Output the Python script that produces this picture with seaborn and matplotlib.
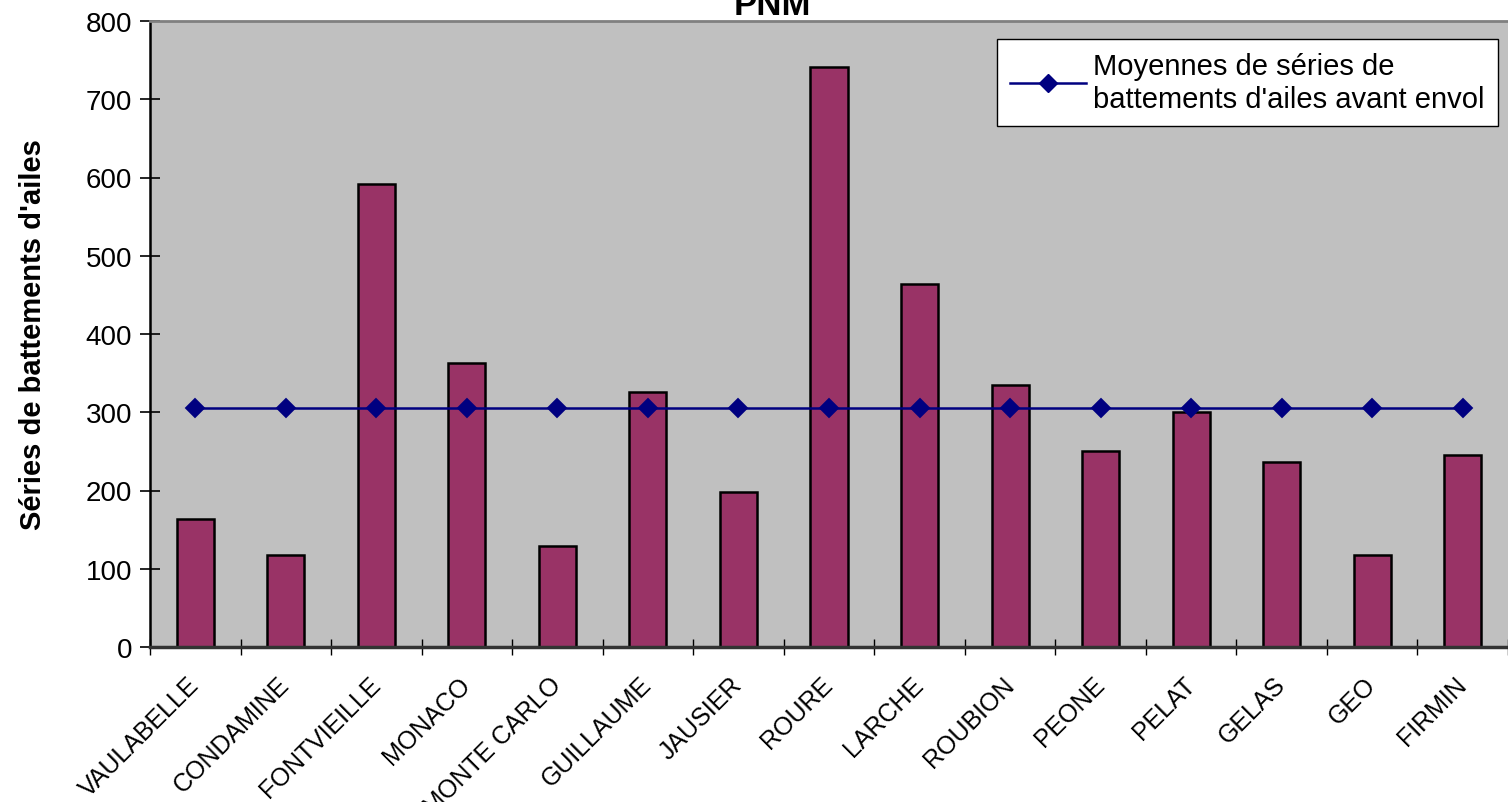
import numpy as np
import pandas as pd
import seaborn as sns
import matplotlib.pyplot as plt
from matplotlib.lines import Line2D

sites = ["VAULABELLE", "CONDAMINE", "FONTVIEILLE", "MONACO", "MONTE CARLO",
         "GUILLAUME", "JAUSIER", "ROURE", "LARCHE", "ROUBION",
         "PEONE", "PELAT", "GELAS", "GEO", "FIRMIN"]
battements = [164, 118, 592, 363, 129, 326, 198, 741, 464, 335, 250, 300, 236, 118, 245]
moyenne = [305.3, 305.3, 305.3, 305.3, 305.3, 305.3, 305.3, 305.3,
           305.3, 305.3, 305.3, 305.3, 305.3, 305.3, 305.3]
yticks = [0, 100, 200, 300, 400, 500, 600, 700, 800]

df = pd.DataFrame({"site": sites, "battements": battements, "moyenne": moyenne})

plt.rcParams["font.family"] = ["Liberation Sans", "DejaVu Sans"]

fig = plt.figure(figsize=(15.08, 8.03), dpi=100)
ax = fig.add_axes([150 / 1508, 1 - 648 / 803, 1 - 150 / 1508, (648 - 22) / 803])
ax.set_facecolor("#C0C0C0")

sns.barplot(data=df, x="site", y="battements", color="#993366", saturation=1,
            width=0.41, edgecolor="black", linewidth=1.8, ax=ax)
sns.pointplot(data=df, x="site", y="moyenne", color="#000080", markers="D",
              markersize=9, linewidth=1.8, errorbar=None, ax=ax)

ax.set_xlim(-0.5, len(sites) - 0.5)
ax.set_ylim(0, 800)
ax.set_yticks(yticks)
ax.set_xlabel("")
ax.set_ylabel("Séries de battements d'ailes", fontsize=21, fontweight="bold", labelpad=28)

ax.set_xticks(range(len(sites)))
ax.set_xticklabels(sites, rotation=45, ha="right", va="center",
                   rotation_mode="anchor", fontsize=18)
ax.set_xticks(np.arange(-0.5, len(sites), 1), minor=True)
ax.tick_params(axis="x", which="major", length=0, pad=24)
ax.tick_params(axis="x", which="minor", direction="inout", length=12, width=1)
ax.tick_params(axis="y", direction="inout", length=14, width=1.2, labelsize=20, pad=6)

ax.spines["right"].set_visible(False)
ax.spines["top"].set_color("#808080")
ax.spines["top"].set_linewidth(2)
ax.spines["bottom"].set_color("#333333")
ax.spines["bottom"].set_linewidth(2.5)
ax.spines["left"].set_color("black")
ax.spines["left"].set_linewidth(1.8)

handle = Line2D([], [], color="#000080", marker="D", markersize=9, linewidth=1.8)
leg = ax.legend([handle], ["Moyennes de séries de\nbattements d'ailes avant envol"],
                loc="upper right", bbox_to_anchor=(1 - 10 / 1358, 1 - 18 / 626),
                borderaxespad=0, fontsize=21, fancybox=False, framealpha=1,
                edgecolor="black", borderpad=0.45, handlelength=2.6,
                handletextpad=0.25, labelspacing=0.2)
leg.get_frame().set_linewidth(1)

fig.text(0.512, 1 - 15 / 803, "PNM", ha="center", va="baseline",
         fontsize=25, fontweight="bold")

fig.savefig("out.png", dpi=100)
